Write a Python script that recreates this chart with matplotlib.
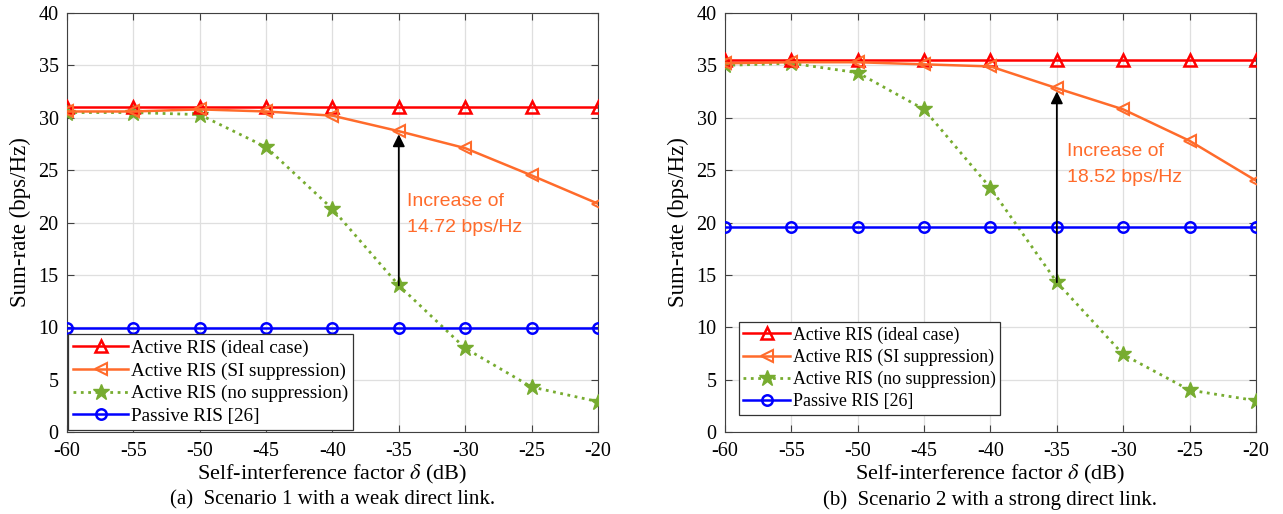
import matplotlib
matplotlib.use("Agg")
import matplotlib.pyplot as plt

delta_db = [-60, -55, -50, -45, -40, -35, -30, -25, -20]

# Scenario 1 (weak direct link)
s1_ideal = [31.0] * 9
s1_si = [30.6, 30.6, 30.8, 30.6, 30.2, 28.72, 27.1, 24.5, 21.8]
s1_none = [30.5, 30.5, 30.3, 27.2, 21.3, 14.0, 8.0, 4.3, 2.9]
s1_passive = [9.9] * 9

# Scenario 2 (strong direct link)
s2_ideal = [35.5] * 9
s2_si = [35.2, 35.3, 35.3, 35.1, 34.9, 32.82, 30.8, 27.8, 24.0]
s2_none = [35.0, 35.2, 34.3, 30.8, 23.3, 14.3, 7.4, 4.0, 3.0]
s2_passive = [19.6] * 9

labels = ["Active RIS (ideal case)", "Active RIS (SI suppression)",
          "Active RIS (no suppression)", "Passive RIS [26]"]
captions = ["(a)  Scenario 1 with a weak direct link.",
            "(b)  Scenario 2 with a strong direct link."]
annot_text = ["Increase of\n14.72 bps/Hz", "Increase of\n18.52 bps/Hz"]

RED = "#FF0000"
ORANGE = "#FF6B2B"
GREEN = "#77AC30"
BLUE = "#0000FF"

plt.rcParams["font.family"] = ["Liberation Serif", "DejaVu Serif"]
plt.rcParams["mathtext.fontset"] = "stix"

fig = plt.figure(figsize=(12.83, 5.14), dpi=100)
ax1 = fig.add_axes([0.0522, 0.1595, 0.4138, 0.8152])
ax2 = fig.add_axes([0.5651, 0.1595, 0.4138, 0.8152])

panels = [
    (ax1, s1_ideal, s1_si, s1_none, s1_passive, (0.002, 0.005), (-34.4, 20.8), 13.8, 2.9),
    (ax2, s2_ideal, s2_si, s2_none, s2_passive, (0.026, 0.041), (-34.2, 25.5), 12.9, 2.6),
]

for i, (ax, ideal, si, none, passive, leg_pos, txt_pos, leg_fs, hlen) in enumerate(panels):
    ax.plot(delta_db, ideal, color=RED, lw=1.8, marker="^", ms=9,
            mfc="none", mew=1.8, label=labels[0], zorder=4)
    ax.plot(delta_db, si, color=ORANGE, lw=1.8, marker="<", ms=9,
            mfc="none", mew=1.5, label=labels[1], zorder=4)
    ax.plot(delta_db, none, color=GREEN, lw=2.0, ls=":", marker="*", ms=12,
            label=labels[2], zorder=3)
    ax.plot(delta_db, passive, color=BLUE, lw=1.8, marker="o", ms=7.5,
            mfc="none", mew=1.8, label=labels[3], zorder=3)

    # arrow showing the gain from SI suppression at -35 dB
    k = delta_db.index(-35)
    ax.annotate("", xy=(-35, si[k] - 0.3), xytext=(-35, none[k]),
                arrowprops=dict(arrowstyle="-|>", color="black", lw=1.3,
                                mutation_scale=18, shrinkA=0, shrinkB=0),
                zorder=5)
    ax.text(txt_pos[0], txt_pos[1], annot_text[i], color=ORANGE,
            fontsize=14, family="Liberation Sans", va="center", ha="left",
            linespacing=1.7)

    ax.set_xlim(-60, -20)
    ax.set_ylim(0, 40)
    ax.set_xticks(delta_db)
    ax.set_xticklabels([str(v) for v in delta_db])
    ax.set_yticks(range(0, 41, 5))
    ax.grid(True, color="#DFDFDF", lw=0.9)
    ax.set_axisbelow(True)
    ax.tick_params(direction="in", top=True, right=True, labelsize=14.5,
                   length=5, color="#404040")
    ax.tick_params(axis="x", pad=7.5)
    ax.tick_params(axis="y", pad=6)
    for sp in ax.spines.values():
        sp.set_color("#404040")
    ax.set_xlabel(r"Self-interference factor $\delta$ (dB)", fontsize=16)
    ax.set_ylabel("Sum-rate (bps/Hz)", fontsize=16.5)
    ax.xaxis.set_label_coords(0.5, -0.075)
    ax.yaxis.set_label_coords(-0.068, 0.5)

    leg = ax.legend(loc="lower left", bbox_to_anchor=leg_pos, fontsize=leg_fs,
                    fancybox=False, edgecolor="#333333", framealpha=1,
                    borderpad=0.25, labelspacing=0.28, handlelength=hlen,
                    handletextpad=0.15, borderaxespad=0)
    leg.get_frame().set_linewidth(0.9)

    ax.text(0.5, -0.163, captions[i], transform=ax.transAxes, ha="center",
            va="center", fontsize=15)

fig.savefig("out.png", dpi=100)
